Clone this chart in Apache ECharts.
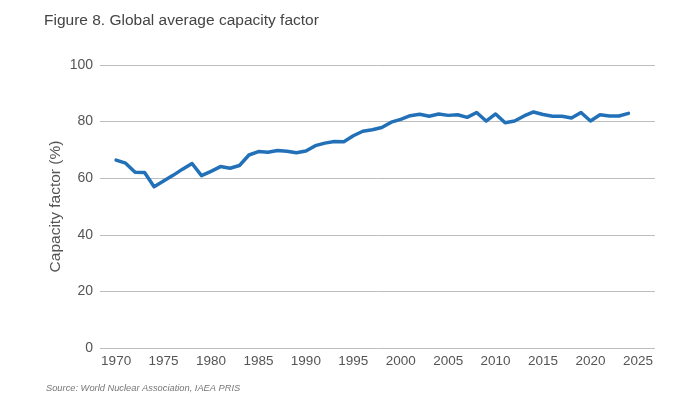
<!DOCTYPE html>
<html>
<head>
<meta charset="utf-8">
<script src="https://cdn.jsdelivr.net/npm/echarts@6/dist/echarts.min.js"></script>
<style>
  html, body { margin: 0; padding: 0; background: #fff; }
  #chart { width: 678px; height: 399px; }
</style>
</head>
<body>
<div id="chart"></div>
<script>
// global average capacity factor (%)
const years = [1970, 1971, 1972, 1973, 1974, 1975, 1976, 1977, 1978, 1979,
  1980, 1981, 1982, 1983, 1984, 1985, 1986, 1987, 1988, 1989,
  1990, 1991, 1992, 1993, 1994, 1995, 1996, 1997, 1998, 1999,
  2000, 2001, 2002, 2003, 2004, 2005, 2006, 2007, 2008, 2009,
  2010, 2011, 2012, 2013, 2014, 2015, 2016, 2017, 2018, 2019,
  2020, 2021, 2022, 2023, 2024];
const capacityFactor = [66.4, 65.3, 62.1, 62.0, 57.0, 59.0, 61.0, 63.2, 65.2, 60.9,
  62.4, 64.1, 63.5, 64.5, 68.2, 69.4, 69.2, 69.8, 69.5, 69.0,
  69.6, 71.5, 72.4, 73.0, 72.9, 75.0, 76.6, 77.1, 77.9, 79.8,
  80.8, 82.1, 82.6, 81.9, 82.7, 82.2, 82.4, 81.5, 83.2, 80.2,
  82.7, 79.6, 80.2, 82.0, 83.4, 82.5, 81.9, 81.9, 81.3, 83.2,
  80.2, 82.4, 82.0, 82.0, 82.9];
const yearTicks = [1970, 1975, 1980, 1985, 1990, 1995, 2000, 2005, 2010, 2015, 2020, 2025];

const font = '"Liberation Sans", Arial, Helvetica, sans-serif';
let chart = echarts.init(document.getElementById('chart'), null, { renderer: 'canvas' });

chart.setOption({
  animation: false,
  textStyle: { fontFamily: font },
  title: [{
    text: 'Figure 8. Global average capacity factor',
    left: 39, top: 8,
    textStyle: { fontSize: 15.5, fontWeight: 'normal', color: '#444', fontFamily: font }
  }, {
    text: 'Source: World Nuclear Association, IAEA PRIS',
    left: 41, top: 379,
    textStyle: { fontSize: 9.3, fontStyle: 'italic', fontWeight: 'normal', color: '#777', fontFamily: font }
  }],
  grid: { left: 100, right: 23, top: 65, bottom: 51, containLabel: false },
  xAxis: {
    type: 'value',
    min: 1968.3,
    max: 2026.8,
    axisLine: { show: false },
    axisTick: { show: false },
    splitLine: { show: false },
    axisLabel: {
      customValues: yearTicks,
      margin: 6,
      fontSize: 13.5,
      color: '#555',
      fontFamily: font,
      formatter: v => String(v)
    }
  },
  yAxis: {
    type: 'value',
    min: 0, max: 100, interval: 20,
    name: 'Capacity factor (%)',
    nameLocation: 'middle',
    nameGap: 36,
    nameMoveOverlap: false,
    nameTextStyle: { fontSize: 15.5, color: '#555', fontFamily: font },
    axisLine: { show: false },
    axisTick: { show: false },
    axisLabel: { margin: 7, fontSize: 14, color: '#555', fontFamily: font },
    splitLine: { lineStyle: { color: '#bdbdbd', width: 1 } }
  },
  series: [{
    type: 'line',
    data: years.map((y, i) => [y, capacityFactor[i]]),
    symbol: 'none',
    lineStyle: { color: '#2271b8', width: 3.5, cap: 'round', join: 'round' }
  }]
});
</script>
</body>
</html>
